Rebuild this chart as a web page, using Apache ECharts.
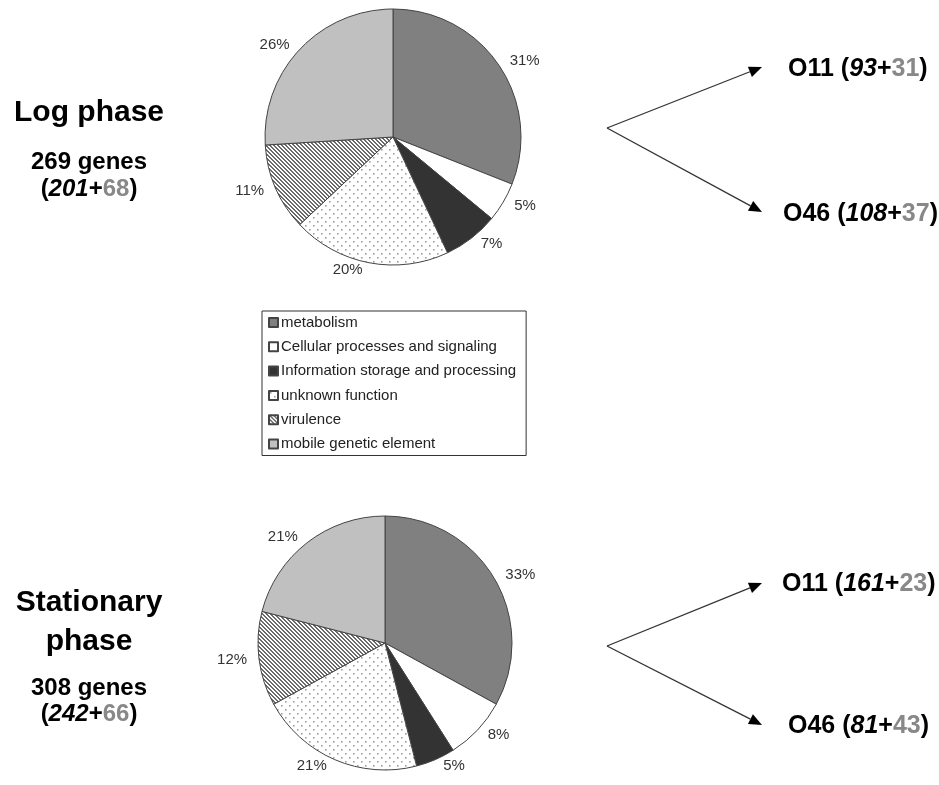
<!DOCTYPE html>
<html>
<head>
<meta charset="utf-8">
<script src="https://cdn.jsdelivr.net/npm/echarts@6/dist/echarts.min.js"></script>
<style>
html,body{margin:0;padding:0;background:#fff;}
#chart{width:939px;height:785px;}
</style>
</head>
<body>
<div id="chart"></div>
<script>
// ---- data ----
const categories = ['metabolism', 'Cellular processes and signaling', 'Information storage and processing', 'unknown function', 'virulence', 'mobile genetic element'];
const logPhase = [31, 5, 7, 20, 11, 26];
const stationaryPhase = [33, 8, 5, 21, 12, 21];
const phaseTitles = [['Log phase'], ['Stationary', 'phase']];
const geneTotals = [269, 308];
const geneSplit = [[201, 68], [242, 66]];
const strains = ['O11', 'O46'];
const strainSplit = [[[93, 31], [108, 37]], [[161, 23], [81, 43]]];

// ---- patterns ----
function dotPattern() {
  const c = document.createElement('canvas');
  c.width = 8; c.height = 8;
  const g = c.getContext('2d');
  g.fillStyle = '#ffffff'; g.fillRect(0, 0, 8, 8);
  g.fillStyle = '#a0a0a0';
  g.fillRect(1, 1, 1.6, 1.6);
  g.fillRect(5, 5, 1.6, 1.6);
  return c;
}
function hatchPattern() {
  const c = document.createElement('canvas');
  c.width = 4; c.height = 4;
  const g = c.getContext('2d');
  g.fillStyle = '#ffffff'; g.fillRect(0, 0, 4, 4);
  g.fillStyle = '#6a6a6a';
  for (let i = 0; i < 4; i++) {
    g.fillRect(i, i, 1, 1);
    g.fillRect((i + 1) % 4, i, 1, 1);
  }
  return c;
}
const fills = [
  '#808080',
  '#ffffff',
  '#333333',
  { image: dotPattern(), repeat: 'repeat' },
  { image: hatchPattern(), repeat: 'repeat' },
  '#c0c0c0'
];

function pieData(vals) {
  return categories.map((n, i) => ({ name: n, value: vals[i], itemStyle: { color: fills[i] } }));
}

const FONT = '"Liberation Sans", Arial, sans-serif';

function pieSeries(vals, center, r) {
  return {
    type: 'pie',
    center: center,
    radius: r,
    startAngle: 90,
    clockwise: true,
    silent: true,
    animation: false,
    data: pieData(vals),
    itemStyle: { borderColor: '#444', borderWidth: 1 },
    label: {
      show: true, position: 'outside', formatter: '{c}%',
      fontSize: 15, color: '#333', fontFamily: FONT
    },
    labelLine: { show: false, length: 7, length2: 0 },
    emphasis: { disabled: true }
  };
}

// ---- graphic annotations ----
const graphics = [];
function txt(x, y, text, rich, align) {
  graphics.push({
    type: 'text', x: x, y: y, silent: true,
    style: { text: text, rich: rich, align: align || 'center', verticalAlign: 'middle', fontFamily: FONT }
  });
}
function richFor(size) {
  return {
    b: { fontSize: size, fontWeight: 'bold', fill: '#000', fontFamily: FONT },
    i: { fontSize: size, fontWeight: 'bold', fontStyle: 'italic', fill: '#000', fontFamily: FONT },
    g: { fontSize: size, fontWeight: 'bold', fill: '#888888', fontFamily: FONT }
  };
}
function arrow(x1, y1, x2, y2) {
  const dx = x2 - x1, dy = y2 - y1, L = Math.sqrt(dx * dx + dy * dy);
  const ux = dx / L, uy = dy / L, hl = 13, hw = 5.5;
  const bx = x2 - ux * hl, by = y2 - uy * hl;
  graphics.push({ type: 'line', silent: true, shape: { x1: x1, y1: y1, x2: bx, y2: by }, style: { stroke: '#333', lineWidth: 1.3 } });
  graphics.push({ type: 'polygon', silent: true, shape: { points: [[x2, y2], [bx - uy * hw, by + ux * hw], [bx + uy * hw, by - ux * hw]] }, style: { fill: '#000' } });
}

// left-hand titles
const titleLayout = [
  { x: 89, ys: [113], geneY: 162, splitY: 189 },
  { x: 89, ys: [603, 642], geneY: 688, splitY: 714 }
];
titleLayout.forEach((t, k) => {
  phaseTitles[k].forEach((line, j) => txt(t.x, t.ys[j], '{b|' + line + '}', richFor(30)));
  txt(t.x, t.geneY, '{b|' + geneTotals[k] + ' genes}', richFor(24));
  txt(t.x, t.splitY, '{b|(}{i|' + geneSplit[k][0] + '}{b|+}{g|' + geneSplit[k][1] + '}{b|)}', richFor(24));
});

// arrows and strain labels
const arrowLayout = [
  { from: [607, 128], tips: [[762, 67], [762, 212]], labels: [[788, 69], [783, 214]] },
  { from: [607, 646], tips: [[762, 583], [762, 725]], labels: [[782, 584], [788, 726]] }
];
arrowLayout.forEach((a, k) => {
  a.tips.forEach((tp, j) => {
    arrow(a.from[0], a.from[1], tp[0], tp[1]);
    const s = strainSplit[k][j];
    txt(a.labels[j][0], a.labels[j][1], '{b|' + strains[j] + ' (}{i|' + s[0] + '}{b|+}{g|' + s[1] + '}{b|)}', richFor(25), 'left');
  });
});

const chart = echarts.init(document.getElementById('chart'), null, { renderer: 'canvas' });
chart.setOption({
  backgroundColor: '#ffffff',
  animation: false,
  legend: {
    orient: 'vertical',
    left: 262, top: 311,
    data: categories,
    icon: 'rect',
    itemWidth: 9, itemHeight: 9,
    itemGap: 9.3,
    padding: [4, 10, 4, 6],
    borderColor: '#333', borderWidth: 1,
    selectedMode: false,
    textStyle: { fontSize: 15, color: '#222', fontFamily: FONT, padding: [0, 0, 0, -2] }
  },
  series: [
    pieSeries(logPhase, [393, 137], 128),
    pieSeries(stationaryPhase, [385, 643], 127)
  ],
  graphic: graphics
});
</script>
</body>
</html>
